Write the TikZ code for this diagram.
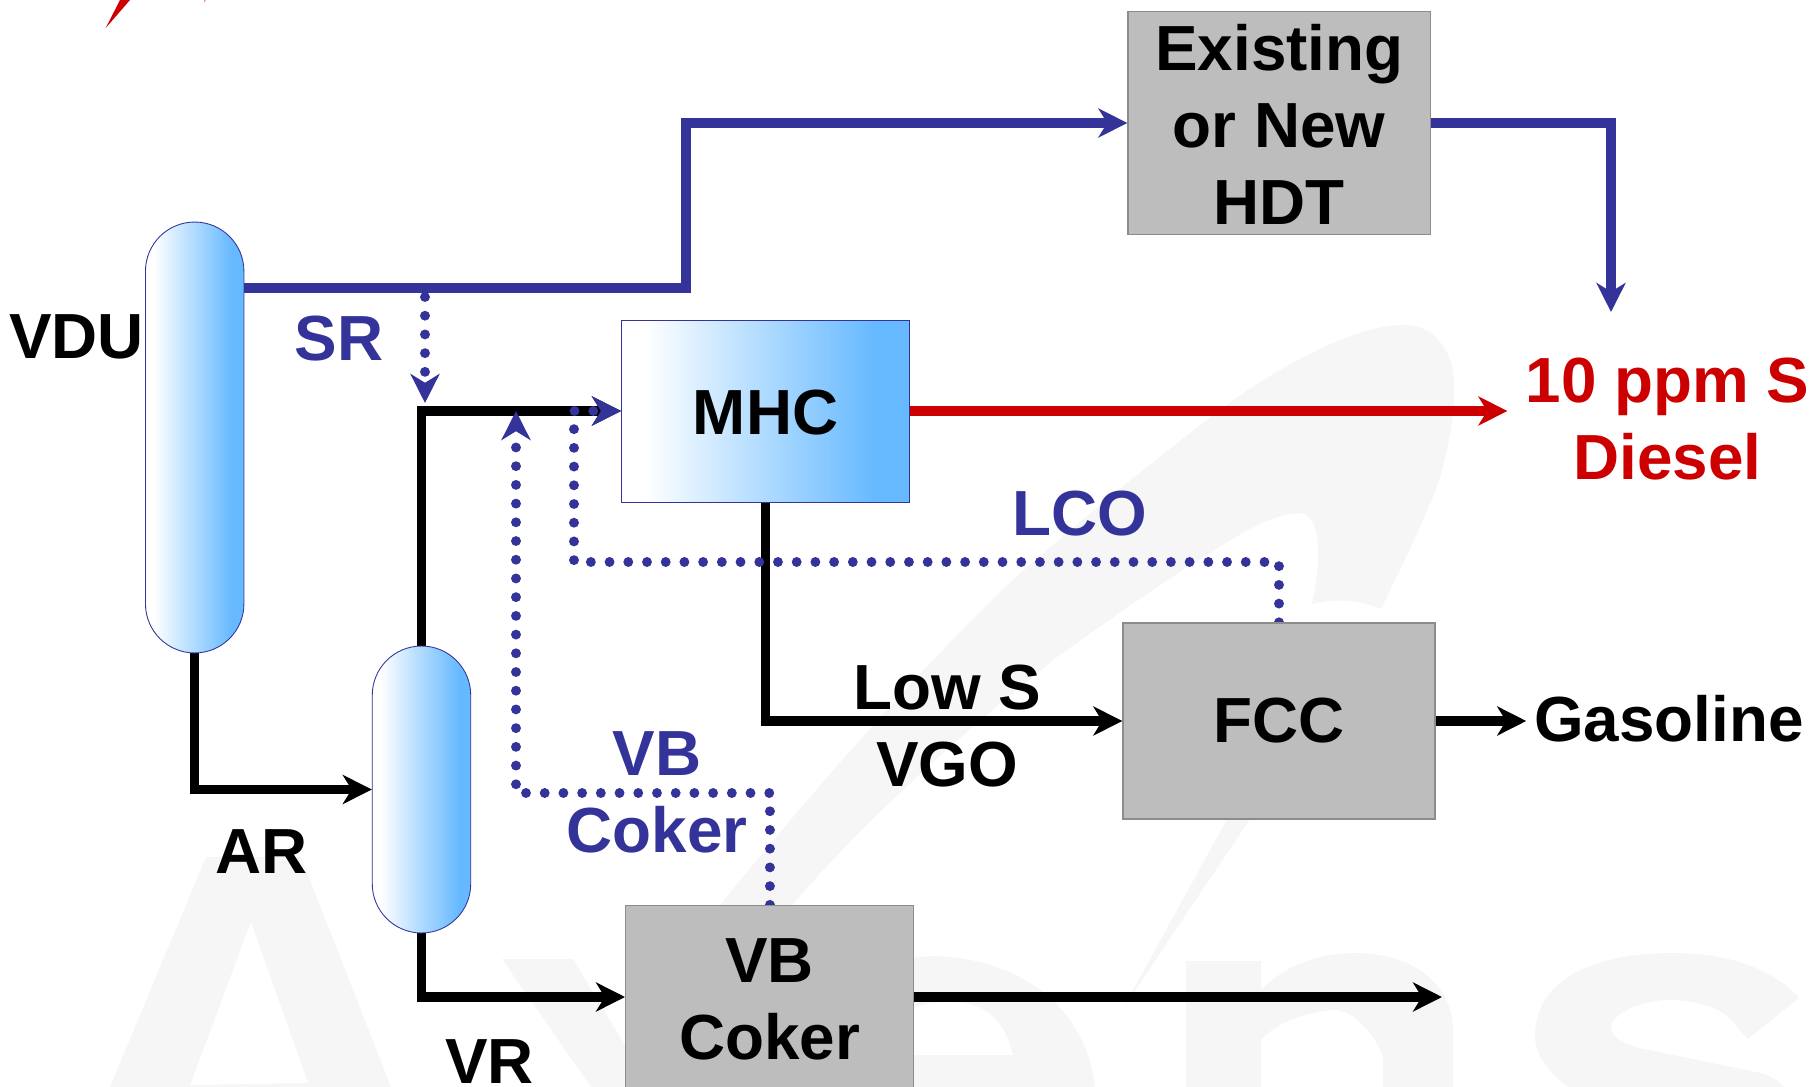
\documentclass[tikz,border=0pt]{standalone}
\usepackage{fontspec}
\setmainfont{Liberation Sans}
\usetikzlibrary{arrows.meta,backgrounds}
\definecolor{flowblue}{HTML}{333399}
\definecolor{flowred}{HTML}{CC0000}
\definecolor{boxgray}{HTML}{BDBDBD}
\definecolor{boxedge}{HTML}{8C8C8C}
\definecolor{vesselblue}{HTML}{66B9FF}
\definecolor{markgray}{HTML}{F6F6F6}
\pgfdeclarehorizontalshading{vessel_shade}{100bp}{color(0bp)=(white); color(29bp)=(white); color(69bp)=(vesselblue); color(100bp)=(vesselblue)}
\begin{document}
\begin{tikzpicture}[x=0.02cm,y=-0.02cm,
label_style/.style={inner sep=0pt,align=center,font=\fontsize{36.3}{43.8}\selectfont\bfseries},
box_style/.style={label_style,rectangle,draw=boxedge,line width=0.8pt,fill=boxgray},
unit_style/.style={label_style,rectangle,draw=flowblue,line width=0.5pt,shading=vessel_shade},
vessel_style/.style={unit_style,rounded corners=28pt,minimum width=1.97cm},
edge_style/.style={line width=5.3pt,-{Stealth[length=16.5pt,width=16.5pt,inset=5pt]}},
dot_style/.style={edge_style,flowblue,line width=5.6pt,line cap=round,dash pattern=on 0.01pt off 10.64pt},
mark_style/.style={fill=markgray,even odd rule}]
\useasboundingbox (0,0) rectangle (1812,1087);
% units
\node[vessel_style,minimum height=8.62cm] (vdu) at (194.7,437.5) {};
\node[vessel_style,minimum height=5.74cm] (vac) at (421.5,789.5) {};
\node[unit_style,minimum width=5.76cm,minimum height=3.64cm] (mhc) at (765.5,411) {\rule{0pt}{27.2pt}MHC};
\node[box_style,minimum width=6.05cm,minimum height=4.46cm] (hdt) at (1279.3,123) {\rule{0pt}{27.4pt}Existing\\or New\\HDT};
\node[box_style,minimum width=6.24cm,minimum height=3.92cm] (fcc) at (1279,721) {FCC};
\node[box_style,minimum width=5.76cm,minimum height=3.66cm] (coker) at (769.7,997) {\rule{0pt}{27.4pt}VB\\Coker};
% labels
\node[label_style] (vdutext) at (76.5,337) {VDU};
\node[label_style,text=flowblue] (srtext) at (339,339) {SR};
\node[label_style] (artext) at (262,852) {AR};
\node[label_style] (vrtext) at (489.5,1062) {VR};
\node[label_style,text=flowblue] (lcotext) at (1079.5,513.5) {LCO};
\node[label_style] (vgotext) at (947,726.5) {Low S\\VGO};
\node[label_style,text=flowblue] (vbtext) at (657,792.5) {VB\\Coker};
\node[label_style,text=flowred] (diesel) at (1667.4,419.5) {10 ppm S\\Diesel};
\node[label_style] (gasoline) at (1669,718.5) {Gasoline};
% free ends
\coordinate (vdutop) at (244,288);
\coordinate (srbend) at (686,288);
\coordinate (hdtout) at (1611,312);
\coordinate (srtap) at (425,297);
\coordinate (srtip) at (425,403);
\coordinate (vbjoin) at (516,793);
\coordinate (vbtip) at (516,411);
\coordinate (lcojoin) at (574,562);
\coordinate (cokerout) at (1442,997);
\begin{scope}[on background layer]
% faded logo behind the flows
\fill[mark_style] (206,857) -- (301,857) -- (391,1087) -- (110,1087) -- cycle (251,922) -- (190,1085) -- (308,1083) -- cycle;
\fill[mark_style] (502,959) -- (573,959) -- (650,1087) -- (591,1087) -- cycle;
\fill[mark_style] (850,1087) -- (850,980) .. controls (880,962) .. (929,956) .. controls (1010,956) and (1085,1000) .. (1095,1087) -- cycle
  (850,1055) -- (1013,1055) .. controls (1005,1020) and (985,1002) .. (950,1002) .. controls (920,1002) and (900,1010) .. (850,1040) -- cycle;
\fill[mark_style] (1186,961) -- (1261,961) -- (1261,990) .. controls (1285,965) and (1320,953) .. (1354,953) .. controls (1420,953) and (1453,990) .. (1453,1030) -- (1453,1087) -- (1383,1087) -- (1383,1057) .. controls (1375,1035) and (1355,1010) .. (1333,1010) .. controls (1315,1012) and (1280,1018) .. (1261,1040) -- (1261,1087) -- (1186,1087) -- cycle;
\fill[mark_style] (1799,998) .. controls (1770,965) and (1720,953) .. (1674,953) .. controls (1600,953) and (1535,975) .. (1535,1037) .. controls (1535,1055) and (1550,1075) .. (1569,1087) -- (1784,1087) .. controls (1778,1080) and (1770,1076) .. (1761,1073) -- (1639,1048) .. controls (1620,1042) and (1611,1036) .. (1611,1027) .. controls (1611,1015) and (1640,1000) .. (1668,1000) .. controls (1695,1000) and (1720,1008) .. (1729,1018) -- (1748,1039) -- cycle;
\fill[mark_style] (720,905) .. controls (830,770) and (920,670) .. (1006,586) .. controls (1080,520) and (1160,455) .. (1236,398) .. controls (1300,355) and (1360,325) .. (1404,325) .. controls (1440,325) and (1456,360) .. (1454,389) .. controls (1455,420) and (1445,465) .. (1435,492) .. controls (1415,540) and (1400,570) .. (1381,609) .. controls (1360,600) and (1335,598) .. (1312,604) .. controls (1318,575) and (1325,525) .. (1305,514) .. controls (1290,510) and (1260,522) .. (1236,537) .. controls (1180,570) and (1120,612) .. (1057,657) .. controls (960,735) and (870,815) .. (792,905) -- cycle;
\fill[mark_style] (1232,810) -- (1256,810) -- (1122,1010) -- cycle;
\fill[flowred] (105.7,28) -- (120,0) -- (130,0) -- cycle;
\fill[flowred!40] (204,0) -- (206,0) -- (204,3) -- cycle;
% flows
\draw[edge_style,flowblue] (vdutop) -- (srbend) |- (hdt.west);
\draw[edge_style,flowblue] (hdt.east) -| (hdtout);
\draw[edge_style,flowred,shorten >=10.2pt] (mhc.east) -- (mhc.east -| diesel.west);
\draw[edge_style] (vdu.south) |- (vac.west);
\draw[edge_style] (vac.north) |- (mhc.west);
\draw[edge_style] (vac.south) |- (coker.west);
\draw[edge_style] (mhc.south) |- (fcc.west);
\draw[edge_style,shorten >=4.4pt] (fcc.east) -- (fcc.east -| gasoline.west);
\draw[edge_style] (coker.east) -- (cokerout);
\draw[dot_style] (srtap) -- (srtip);
\draw[dot_style] (coker.north) |- (vbjoin) -- (vbtip);
\draw[dot_style] (fcc.north) |- (lcojoin) |- (mhc.west);
\end{scope}
\end{tikzpicture}
\end{document}
